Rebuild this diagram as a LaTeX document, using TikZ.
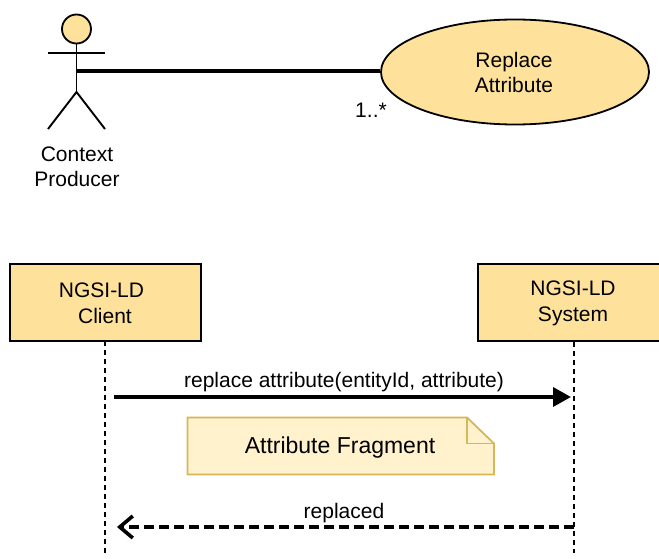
\documentclass[tikz,border=0pt]{standalone}
\usepackage{fontspec}
\setmainfont{Liberation Sans}
\usetikzlibrary{arrows.meta,shapes.geometric}
\definecolor{boxfill}{HTML}{FEE29B}
\definecolor{notefill}{HTML}{FFF2CC}
\definecolor{notedraw}{HTML}{D6B656}
\tikzset{
  stickline/.style={draw=black,line width=1.9pt},
  thickline/.style={draw=black,line width=3.6pt},
  labeltext/.style={font=\fontsize{21}{25.5}\selectfont,align=center,inner sep=0pt,text=black},
  lifebox/.style={draw=black,line width=1.8pt,fill=boxfill},
  lifeline/.style={draw=black,line width=1.8pt,dash pattern=on 5pt off 4pt},
}
\begin{document}
\begin{tikzpicture}[x=1pt,y=-1pt]
\useasboundingbox (0,0) rectangle (659,559);
\clip (0,0) rectangle (659,559);
% actor
\node[circle,draw=black,line width=1.8pt,fill=boxfill,minimum size=29pt,inner sep=0pt] (head) at (76.5,29) {};
\coordinate (hip) at (76.5,92);
\coordinate (armL) at (48,53);
\coordinate (armR) at (105,53);
\coordinate (legL) at (48,129);
\coordinate (legR) at (105,129);
\coordinate (waist) at (76.5,71);
\draw[stickline] (head.south) -- (hip);
\draw[stickline] (armL) -- (armR);
\draw[stickline] (legL) -- (hip) -- (legR);
\node[labeltext] (actorlabel) at (77,167) {Context\\Producer};
% use case
\node[ellipse,draw=black,line width=1.8pt,fill=boxfill,minimum width=268pt,minimum height=105pt,inner sep=0pt] (usecase) at (515,72) {};
\node[labeltext] (usecasetext) at (514,72.5) {Replace\\Attribute};
\draw[thickline] (waist) -- (usecase.west |- waist);
\node[labeltext] (mult) at (371,110) {1..*};
% lifeline boxes
\node[lifebox,minimum width=191pt,minimum height=77pt,inner sep=0pt] (client) at (105.5,302.5) {};
\node[labeltext] (clienttext) at (101.5,303.5) {NGSI-LD\\\hspace*{7pt}Client};
\node[lifebox,minimum width=192pt,minimum height=77pt,inner sep=0pt] (system) at (574,302.5) {};
\node[labeltext] (systemtext) at (573,303.5) {NGSI-LD\\System};
\coordinate (clientend) at (105,553);
\coordinate (systemend) at (574,553);
\draw[lifeline] (105,341) -- (clientend);
\draw[lifeline] (system.south) -- (systemend);
% messages
\coordinate (m1s) at (114,397);
\coordinate (m1e) at (571,397);
\coordinate (m2s) at (574,527);
\coordinate (m2e) at (117,527);
\draw[thickline,-{Triangle[length=18pt,width=19pt]}] (m1s) -- (m1e);
\draw[thickline,dash pattern=on 10pt off 5pt,-{Straight Barb[length=13pt,width=22pt,line width=3.6pt]}] (m2s) -- (m2e);
\node[labeltext] (m1label) at (344,382) {replace attribute(entityId, attribute)};
\node[labeltext] (m2label) at (344,513) {replaced};
% note
\draw[draw=notedraw,fill=notefill,line width=1.8pt]
  (187.5,417.5) -- (467,417.5) -- (494,443.5) -- (494,474.5) -- (187.5,474.5) -- cycle;
\draw[draw=notedraw,line width=1.8pt] (467,417.5) -- (467,443.5) -- (494,443.5);
\node[labeltext,font=\fontsize{23}{27}\selectfont] (notetext) at (340,447.5) {Attribute Fragment};
\end{tikzpicture}
\end{document}
